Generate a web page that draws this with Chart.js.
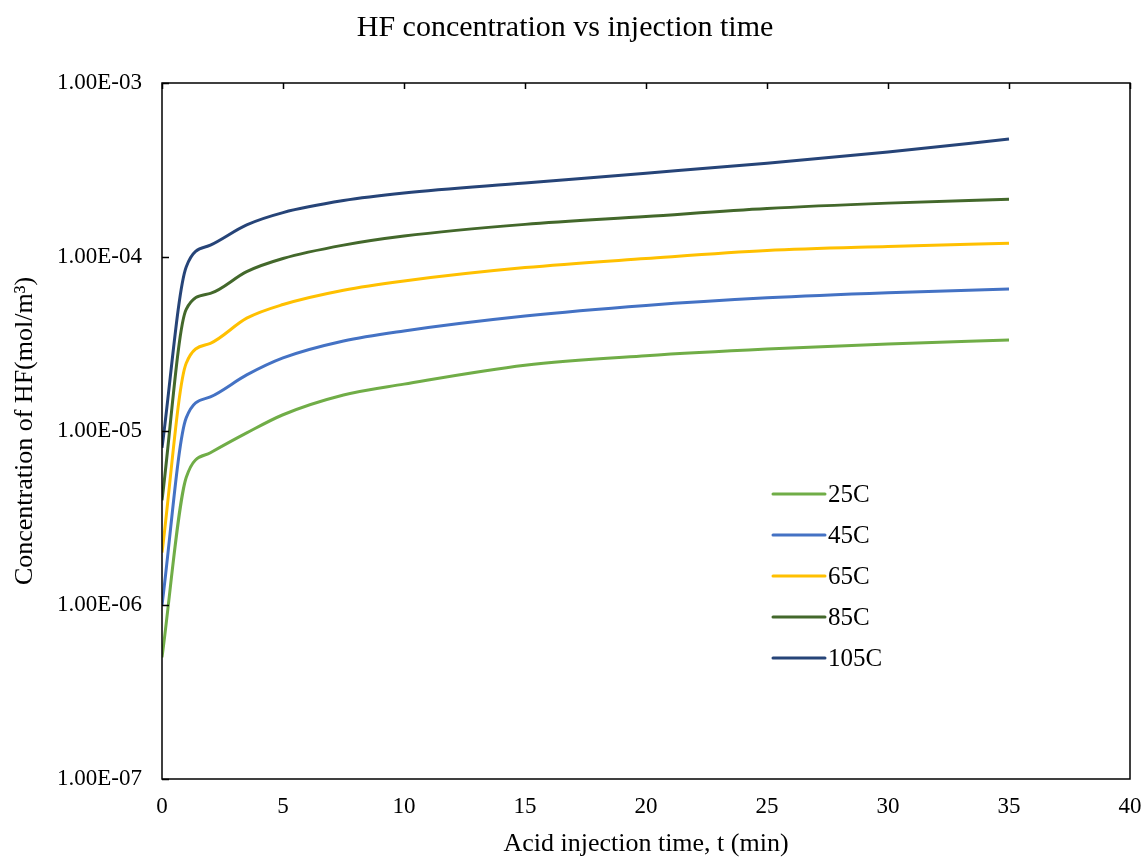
<!DOCTYPE html>
<html>
<head>
<meta charset="utf-8">
<script src="https://cdn.jsdelivr.net/npm/chart.js@4"></script>
<style>
  html, body { margin: 0; padding: 0; background: #fff; }
  #wrap { width: 1145px; height: 858px; }
</style>
</head>
<body>
<div id="wrap"><canvas id="hfChart" width="1145" height="858"></canvas></div>
<script>
// time points (min)
const times = [0, 1, 2, 3.5, 5, 7.5, 10, 15, 20, 25, 30, 35];

// HF concentration (mol/m3)
const hf25C  = [5.0e-7, 5.4e-6, 7.5e-6, 9.75e-6, 1.24e-5, 1.61e-5, 1.86e-5, 2.39e-5, 2.71e-5, 2.96e-5, 3.16e-5, 3.33e-5];
const hf45C  = [1.0e-6, 1.19e-5, 1.57e-5, 2.1e-5, 2.63e-5, 3.29e-5, 3.76e-5, 4.58e-5, 5.27e-5, 5.83e-5, 6.24e-5, 6.55e-5];
const hf65C  = [2.0e-6, 2.45e-5, 3.19e-5, 4.45e-5, 5.33e-5, 6.44e-5, 7.28e-5, 8.69e-5, 9.8e-5, 1.09e-4, 1.15e-4, 1.20e-4];
const hf85C  = [4.0e-6, 5.0e-5, 6.18e-5, 8.24e-5, 9.8e-5, 1.17e-4, 1.32e-4, 1.54e-4, 1.71e-4, 1.90e-4, 2.04e-4, 2.15e-4];
const hf105C = [8.0e-6, 8.77e-5, 1.17e-4, 1.53e-4, 1.80e-4, 2.11e-4, 2.33e-4, 2.66e-4, 3.03e-4, 3.46e-4, 4.01e-4, 4.76e-4];

const seriesLabels = ['25C', '45C', '65C', '85C', '105C'];
const seriesValues = [hf25C, hf45C, hf65C, hf85C, hf105C];
const seriesColors = ['#70AD47', '#4472C4', '#FFC000', '#43682B', '#264478'];

const yTicks = [1e-7, 1e-6, 1e-5, 1e-4, 1e-3];
const xTicks = [0, 5, 10, 15, 20, 25, 30, 35, 40];

const serif = "'Liberation Serif', 'Times New Roman', serif";

const datasets = seriesLabels.map((name, i) => ({
    label: name,
    data: times.map((t, j) => ({ x: t, y: seriesValues[i][j] })),
    borderColor: seriesColors[i],
    backgroundColor: seriesColors[i],
    borderWidth: 3,
    pointRadius: 0,
    fill: false,
    cubicInterpolationMode: 'monotone'
}));

// border box, inside ticks and the in-plot legend
const framePlugin = {
    id: 'frame',
    afterDatasetsDraw(chart) {
        const ctx = chart.ctx;
        const a = chart.chartArea;
        const xs = chart.scales.x;
        const ys = chart.scales.y;
        ctx.save();
        ctx.strokeStyle = '#000';
        ctx.lineWidth = 1.5;
        ctx.strokeRect(a.left, a.top, a.right - a.left, a.bottom - a.top);

        ctx.beginPath();
        yTicks.forEach(v => {
            const y = Math.round(ys.getPixelForValue(v)) + 0.5;
            ctx.moveTo(a.left, y);
            ctx.lineTo(a.left + 7, y);
        });
        xTicks.forEach(v => {
            const x = Math.round(xs.getPixelForValue(v)) + 0.5;
            ctx.moveTo(x, a.top);
            ctx.lineTo(x, a.top + 6);
        });
        ctx.stroke();

        // legend
        const lx = 773, ly = 494, gap = 41;
        ctx.font = '25px ' + serif;
        ctx.textBaseline = 'middle';
        ctx.textAlign = 'left';
        chart.data.datasets.forEach((ds, i) => {
            const y = ly + i * gap;
            ctx.strokeStyle = ds.borderColor;
            ctx.lineWidth = 3;
            ctx.lineCap = 'round';
            ctx.beginPath();
            ctx.moveTo(lx, y);
            ctx.lineTo(lx + 52, y);
            ctx.stroke();
            ctx.fillStyle = '#000';
            ctx.fillText(ds.label, lx + 55, y + 1);
        });
        ctx.restore();
    }
};

new Chart(document.getElementById('hfChart'), {
    type: 'line',
    data: { datasets: datasets },
    options: {
        responsive: false,
        animation: false,
        layout: { padding: { left: 0, right: 15, top: 0, bottom: 0 } },
        plugins: {
            legend: { display: false },
            tooltip: { enabled: false },
            title: {
                display: true,
                text: 'HF concentration vs injection time',
                color: '#000',
                font: { family: serif, size: 30, weight: 'normal' },
                padding: { top: 10, bottom: 37 }
            }
        },
        scales: {
            x: {
                type: 'linear',
                min: 0,
                max: 40,
                afterBuildTicks: s => { s.ticks = xTicks.map(v => ({ value: v })); },
                afterFit: s => {
                    s.height = 79;
                    s.paddingLeft = 0;
                    s.paddingRight = 0;
                },
                grid: { display: false, drawTicks: false },
                border: { display: false },
                ticks: {
                    color: '#000',
                    padding: 14,
                    font: { family: serif, size: 23 }
                },
                title: {
                    display: true,
                    text: 'Acid injection time, t (min)',
                    color: '#000',
                    font: { family: serif, size: 26, lineHeight: 1 },
                    padding: { top: 0, bottom: 1 }
                }
            },
            y: {
                type: 'logarithmic',
                min: 1e-7,
                max: 1e-3,
                afterBuildTicks: s => { s.ticks = yTicks.map(v => ({ value: v })); },
                afterFit: s => { s.width = 162; },
                grid: { display: false, drawTicks: false },
                border: { display: false },
                ticks: {
                    color: '#000',
                    padding: 20,
                    font: { family: serif, size: 23 },
                    callback: v => {
                        const e = Math.round(Math.log10(v));
                        return '1.00E-' + String(-e).padStart(2, '0');
                    }
                },
                title: {
                    display: true,
                    text: 'Concentration of HF(mol/m³)',
                    color: '#000',
                    font: { family: serif, size: 26 },
                    padding: { top: 10 }
                }
            }
        }
    },
    plugins: [framePlugin]
});
</script>
</body>
</html>
